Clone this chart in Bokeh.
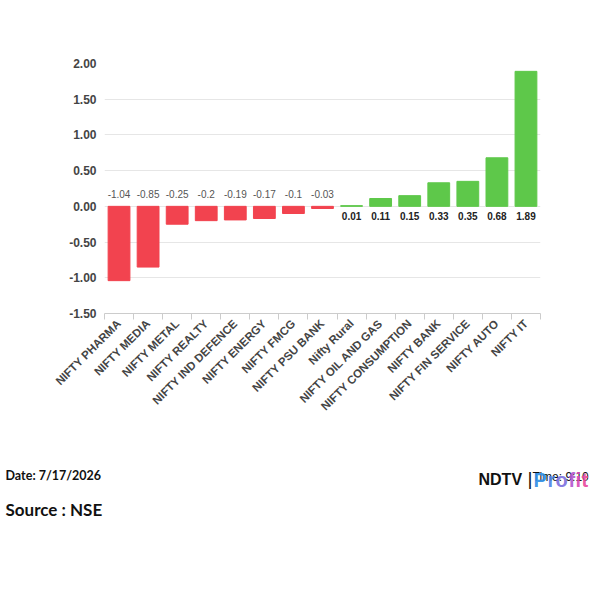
import math
from bokeh.plotting import figure
from bokeh.models import Range1d, FixedTicker, ColumnDataSource, NumeralTickFormatter
from bokeh.core.properties import value
from bokeh.embed import file_html
from bokeh.resources import INLINE

categories = ["NIFTY PHARMA", "NIFTY MEDIA", "NIFTY METAL", "NIFTY REALTY",
              "NIFTY IND DEFENCE", "NIFTY ENERGY", "NIFTY FMCG", "NIFTY PSU BANK",
              "Nifty Rural", "NIFTY OIL AND GAS", "NIFTY CONSUMPTION", "NIFTY BANK",
              "NIFTY FIN SERVICE", "NIFTY AUTO", "NIFTY IT"]
changes = [-1.04, -0.85, -0.25, -0.2, -0.19, -0.17, -0.1, -0.03,
           0.01, 0.11, 0.15, 0.33, 0.35, 0.68, 1.89]
y_ticks = [-1.5, -1.0, -0.5, 0.0, 0.5, 1.0, 1.5, 2.0]
date_text = "Date: 7/17/2026"
source_text = "Source : NSE"
time_text = "Time: 9:10"

RED = "#f2434f"
GREEN = "#5ec84a"
FONT = "Liberation Sans"

idx = list(range(len(categories)))
colors = [RED if v < 0 else GREEN for v in changes]
labels = [f"{v:g}" for v in changes]

src = ColumnDataSource(dict(x=idx, top=changes, color=colors))
neg_i = [i for i in idx if changes[i] < 0]
pos_i = [i for i in idx if changes[i] >= 0]
neg = ColumnDataSource(dict(x=neg_i, y=[0] * len(neg_i), t=[labels[i] for i in neg_i]))
pos = ColumnDataSource(dict(x=pos_i, y=[0] * len(pos_i), t=[labels[i] for i in pos_i]))

W, H1 = 584, 430
ML, MR, MT = 104, 44, 63
MB = H1 - 313
p = figure(width=W, height=H1, output_backend="svg", toolbar_location=None,
           x_range=Range1d(-0.5, len(categories) - 0.5), y_range=Range1d(-1.5, 2.0),
           min_border_left=ML, min_border_right=MR, min_border_top=MT,
           min_border_bottom=MB)
p.outline_line_color = None
p.background_fill_color = "white"
p.border_fill_color = "white"

p.vbar(x="x", top="top", bottom=0, width=0.75, color="color", source=src)

p.text(x="x", y="y", text="t", source=neg, text_align="center", text_baseline="bottom",
       y_offset=-8, text_font=value(FONT), text_font_size="10px", text_color="#555555")
p.text(x="x", y="y", text="t", source=pos, text_align="center", text_baseline="top",
       y_offset=6, text_font=value(FONT), text_font_size="10px", text_color="#222222",
       text_font_style="bold")

# x axis
p.xaxis.ticker = FixedTicker(ticks=idx, minor_ticks=[i - 0.5 for i in range(len(idx) + 1)])
p.xaxis.major_label_overrides = {i: c for i, c in enumerate(categories)}
p.xaxis.major_label_orientation = math.pi / 4
p.xaxis.major_tick_line_color = None
p.xaxis.minor_tick_line_color = "#cccccc"
p.xaxis.minor_tick_in = 0
p.xaxis.minor_tick_out = 6
p.xaxis.axis_line_color = "#cccccc"
p.xaxis.major_label_text_font = FONT
p.xaxis.major_label_text_font_style = "bold"
p.xaxis.major_label_text_font_size = "11.5px"
p.xaxis.major_label_text_color = "#444444"
p.xaxis.major_label_standoff = 2
p.xgrid.grid_line_color = None

# y axis
p.yaxis.ticker = FixedTicker(ticks=y_ticks)
p.yaxis.formatter = NumeralTickFormatter(format="0.00")
p.yaxis.axis_line_color = None
p.yaxis.major_tick_line_color = None
p.yaxis.major_tick_out = 0
p.yaxis.major_tick_in = 0
p.yaxis.minor_tick_line_color = None
p.yaxis.major_label_text_font = FONT
p.yaxis.major_label_text_font_style = "bold"
p.yaxis.major_label_text_font_size = "12px"
p.yaxis.major_label_text_color = "#444444"
p.yaxis.major_label_standoff = 8
p.ygrid.grid_line_color = "#e6e6e6"
p.ygrid.ticker = FixedTicker(ticks=y_ticks)

# footer figure (its own root, placed below the chart)
W2, H2 = 592, 150
f = figure(width=W2, height=H2, output_backend="svg", toolbar_location=None,
           x_range=Range1d(0, W2), y_range=Range1d(H2, 0), min_border=0)
f.outline_line_color = None
f.axis.visible = False
f.grid.grid_line_color = None

def foot(x, y, text, size, color="#111111", font="Lato", style="bold", alpha=1.0):
    # x, y in page pixels; footer canvas starts at page y = H1
    f.text(x=[x], y=[y - H1], text=[text], text_font=value(font), text_font_style=style,
           text_font_size=size, text_color=color, text_alpha=alpha, text_baseline="middle")

foot(5, 475, date_text, "12.5px")
foot(5, 509, source_text, "17px")
foot(478, 479, "NDTV", "16px", font=FONT)
foot(527, 478, "|", "19px", font=FONT, style="normal")
foot(532, 476, time_text, "12px", font=FONT, style="normal")
profit_letters = ["P", "r", "o", "f", "i", "t"]
profit_colors = ["#2f8fe6", "#4d84e6", "#7c70de", "#b258cf", "#d84cb6", "#e84a9e"]
profit_x = [533, 547, 555, 568, 575, 581]
for ch, col, px in zip(profit_letters, profit_colors, profit_x):
    foot(px, 479, ch, "20px", color=col, font=FONT, alpha=0.92)

open("out.html", "w").write(file_html([p, f], INLINE))
